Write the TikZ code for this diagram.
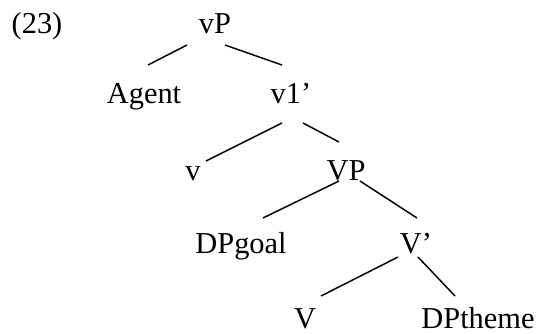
\documentclass[tikz,border=0pt]{standalone}
\usepackage{fontspec}
\setmainfont{Liberation Serif}

\begin{document}
\begin{tikzpicture}[x=0.75pt, y=-0.75pt,  % one unit is one pixel of the page, y runs down
    lbl/.style={anchor=base, inner sep=0pt, font=\fontsize{22.8}{27}\selectfont},
    branch/.style={line width=1.1pt}]
    \useasboundingbox (0,0) rectangle (539,333);

    % Example number and the labels of the tree
    \node[lbl] (ex) at (37,33) {(23)};
    \node[lbl] (vP) at (215,33) {vP};
    \node[lbl] (agent) at (144,103) {Agent};
    \node[lbl] (vbar) at (291,103) {v1'};
    \node[lbl] (v) at (193,180) {v};
    \node[lbl] (VP) at (346,180) {VP};
    \node[lbl] (goal) at (241,253) {DPgoal};
    \node[lbl] (Vbar) at (416,253) {V'};
    \node[lbl] (V) at (305,328) {V};
    \node[lbl] (theme) at (478,328) {DPtheme};

    % Branches
    \draw[branch] ([shift={(-28,12)}]vP.base) -- ([shift={(4,-38)}]agent.base);
    \draw[branch] ([shift={(10,12)}]vP.base) -- ([shift={(-9,-38)}]vbar.base);
    \draw[branch] ([shift={(-9,20)}]vbar.base) -- ([shift={(13,-19)}]v.base);
    \draw[branch] ([shift={(12,20)}]vbar.base) -- ([shift={(-7,-38)}]VP.base);
    \draw[branch] ([shift={(-7,1)}]VP.base) -- ([shift={(22,-35)}]goal.base);
    \draw[branch] ([shift={(14,1)}]VP.base) -- ([shift={(1,-35)}]Vbar.base);
    \draw[branch] ([shift={(-18,4)}]Vbar.base) -- ([shift={(16,-32)}]V.base);
    \draw[branch] ([shift={(2,4)}]Vbar.base) -- ([shift={(-23,-32)}]theme.base);
\end{tikzpicture}
\end{document}
